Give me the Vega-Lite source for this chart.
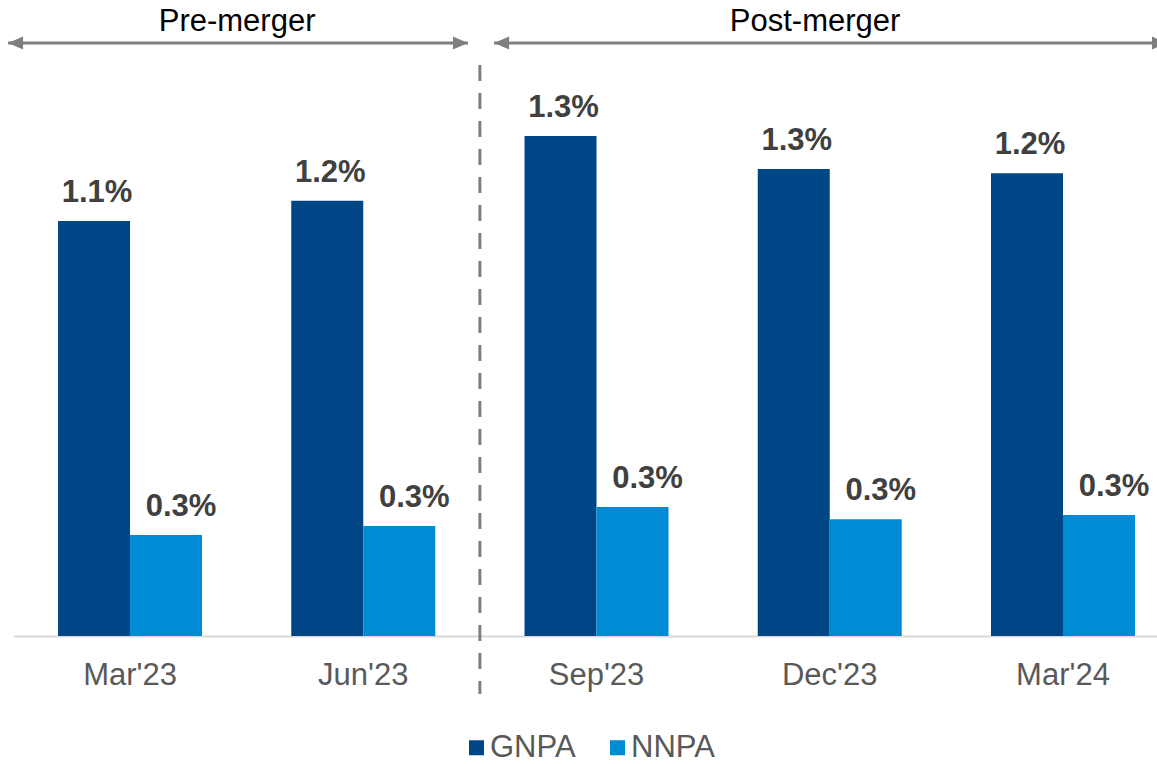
{
  "$schema": "https://vega.github.io/schema/vega-lite/v6.json",
  "width": 1157,
  "height": 636,
  "padding": {"left": 0, "top": 0, "right": 0, "bottom": 128},
  "autosize": {"type": "none"},
  "background": "white",
  "config": {"view": {"stroke": null}, "font": "Liberation Sans"},
  "datasets": {
    "npa": [
      {"quarter": "Mar'23", "series": "GNPA", "value": 0.011126},
      {"quarter": "Mar'23", "series": "NNPA", "value": 0.002708},
      {"quarter": "Jun'23", "series": "GNPA", "value": 0.01167},
      {"quarter": "Jun'23", "series": "NNPA", "value": 0.002949},
      {"quarter": "Sep'23", "series": "GNPA", "value": 0.013405},
      {"quarter": "Sep'23", "series": "NNPA", "value": 0.003458},
      {"quarter": "Dec'23", "series": "GNPA", "value": 0.01252},
      {"quarter": "Dec'23", "series": "NNPA", "value": 0.003129},
      {"quarter": "Mar'24", "series": "GNPA", "value": 0.012405},
      {"quarter": "Mar'24", "series": "NNPA", "value": 0.003244}
    ],
    "periods": [
      {"period": "Pre-merger", "start": -0.023, "end": 1.949, "mid": 0.959},
      {"period": "Post-merger", "start": 2.061, "end": 4.946, "mid": 3.437}
    ],
    "divider": [{"boundary": 2.0}]
  },
  "layer": [
    {
      "data": {"name": "npa"},
      "layer": [
        {
          "mark": {"type": "bar"},
          "encoding": {
            "x": {
              "field": "quarter", "type": "nominal", "sort": null,
              "scale": {"range": [13.4, 1179.6], "paddingInner": 0.3826, "paddingOuter": 0.1913},
              "axis": {"title": null, "labelFontSize": 31, "labelColor": "#595959", "labelFont": "Liberation Sans", "ticks": false, "domainColor": "#D9D9D9", "domainWidth": 2, "labelPadding": 24, "labelAngle": 0}
            },
            "xOffset": {"field": "series", "type": "nominal", "sort": ["GNPA", "NNPA"], "scale": {"paddingInner": 0, "paddingOuter": 0}},
            "y": {"field": "value", "type": "quantitative", "scale": {"domain": [0, 0.017051], "nice": false}, "axis": null},
            "color": {
              "field": "series", "type": "nominal",
              "scale": {"domain": ["GNPA", "NNPA"], "range": ["#004687", "#008BD5"]},
              "legend": {"title": null, "orient": "none", "direction": "horizontal", "legendX": 461, "legendY": 732, "symbolType": "square", "symbolSize": 225, "symbolStrokeWidth": 0, "labelFontSize": 31, "labelColor": "#595959", "labelFont": "Liberation Sans", "labelOffset": -2, "columnPadding": 26}
            }
          }
        },
        {
          "transform": [{"filter": "datum.series === 'GNPA'"}],
          "mark": {"type": "text", "fontSize": 31, "fontWeight": "bold", "color": "#404040", "baseline": "alphabetic", "dy": -19, "dx": 3},
          "encoding": {
            "x": {"field": "quarter", "type": "nominal", "sort": null},
            "xOffset": {"field": "series", "type": "nominal", "sort": ["GNPA", "NNPA"]},
            "y": {"field": "value", "type": "quantitative", "scale": {"domain": [0, 0.017051], "nice": false}},
            "text": {"field": "value", "type": "quantitative", "format": ".1%"}
          }
        },
        {
          "transform": [{"filter": "datum.series === 'NNPA'"}],
          "mark": {"type": "text", "fontSize": 31, "fontWeight": "bold", "color": "#404040", "baseline": "alphabetic", "dy": -19, "dx": 15},
          "encoding": {
            "x": {"field": "quarter", "type": "nominal", "sort": null},
            "xOffset": {"field": "series", "type": "nominal", "sort": ["GNPA", "NNPA"]},
            "y": {"field": "value", "type": "quantitative", "scale": {"domain": [0, 0.017051], "nice": false}},
            "text": {"field": "value", "type": "quantitative", "format": ".1%"}
          }
        }
      ]
    },
    {
      "data": {"name": "periods"},
      "layer": [
        {
          "mark": {"type": "rule", "color": "#7F7F7F", "strokeWidth": 3},
          "encoding": {
            "x": {"field": "start", "type": "quantitative", "scale": {"domain": [0, 5], "range": [13.4, 1179.6], "nice": false, "zero": false}, "axis": null},
            "x2": {"field": "end"},
            "y": {"datum": 0.015898, "type": "quantitative", "scale": {"domain": [0, 0.017051], "nice": false}}
          }
        },
        {
          "mark": {"type": "point", "shape": "M0,0L2,-0.87L2,0.87Z", "size": 225, "filled": true, "color": "#7F7F7F", "opacity": 1, "strokeWidth": 0},
          "encoding": {
            "x": {"field": "start", "type": "quantitative"},
            "y": {"datum": 0.015898, "type": "quantitative"}
          }
        },
        {
          "mark": {"type": "point", "shape": "M0,0L-2,-0.87L-2,0.87Z", "size": 225, "filled": true, "color": "#7F7F7F", "opacity": 1, "strokeWidth": 0},
          "encoding": {
            "x": {"field": "end", "type": "quantitative"},
            "y": {"datum": 0.015898, "type": "quantitative"}
          }
        },
        {
          "mark": {"type": "text", "fontSize": 31, "color": "#000000", "baseline": "middle", "align": "center"},
          "encoding": {
            "x": {"field": "mid", "type": "quantitative"},
            "y": {"datum": 0.016461, "type": "quantitative"},
            "text": {"field": "period", "type": "nominal"}
          }
        },
        {
          "data": {"name": "divider"},
          "mark": {"type": "rule", "color": "#7F7F7F", "strokeWidth": 3, "strokeDash": [16, 12]},
          "encoding": {
            "x": {"field": "boundary", "type": "quantitative"},
            "y": {"datum": 0.015308, "type": "quantitative"},
            "y2": {"datum": -0.001555}
          }
        }
      ]
    }
  ],
  "resolve": {"scale": {"x": "independent"}}
}
